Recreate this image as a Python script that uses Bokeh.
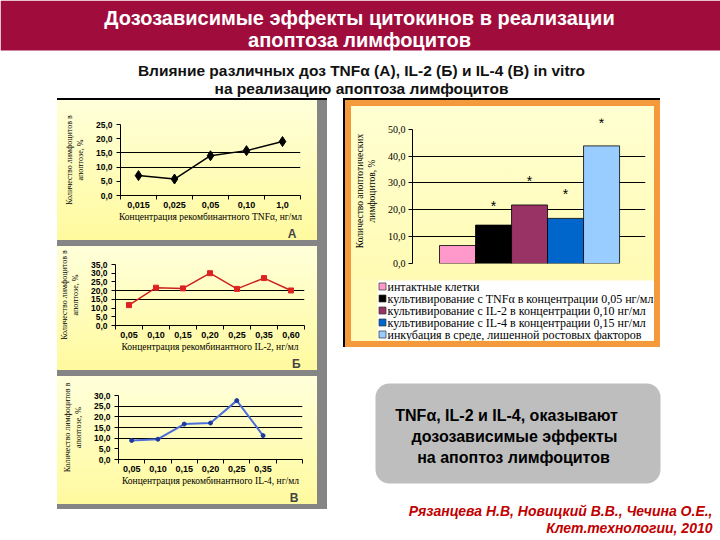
from bokeh.plotting import figure
from bokeh.layouts import row, column
from bokeh.models import (Range1d, FixedTicker, CustomJSTickFormatter, Spacer, Title,
                          ColumnDataSource, BoxAnnotation)
from bokeh.embed import file_html
from bokeh.resources import INLINE
from bokeh.core.properties import value

# ---------------- data ----------------
tnf_doses = ["0,015", "0,025", "0,05", "0,10", "1,0"]
tnf_apoptosis = [7.0, 5.8, 14.0, 15.8, 19.0]

il2_doses = ["0,05", "0,10", "0,15", "0,20", "0,25", "0,35", "0,60"]
il2_apoptosis = [11.7, 21.7, 21.3, 30.0, 21.0, 27.2, 20.1]

il4_doses = ["0,05", "0,10", "0,15", "0,20", "0,25", "0,35", ""]
il4_apoptosis = [8.9, 9.5, 16.6, 17.1, 27.6, 11.2]

groups = ["интактные клетки",
          "культивирование с TNFα в концентрации 0,05 нг/мл",
          "культивирование с IL-2 в концентрации 0,10 нг/мл",
          "культивирование с IL-4 в концентрации 0,15 нг/мл",
          "инкубация в среде, лишенной ростовых факторов"]
group_apoptosis = [6.7, 14.3, 21.8, 16.8, 43.8]
group_colors = ["#FF99CC", "#000000", "#993366", "#0066CC", "#99CCFF"]
star_group = [1, 2, 3, 4]
star_level = [21.4, 30.7, 25.9, 52.2]

title_lines = ["Дозозависимые эффекты цитокинов в реализации", "апоптоза лимфоцитов"]
subtitle_lines = ["Влияние различных доз TNFα (А), IL-2 (Б) и IL-4 (В) in vitro",
                  "на реализацию апоптоза лимфоцитов"]
box_lines = ["TNFα, IL-2 и IL-4, оказывают", "дозозависимые эффекты", "на апоптоз лимфоцитов"]
cite_lines = ["Рязанцева Н.В, Новицкий В.В., Чечина О.Е.,", "Клет.технологии, 2010"]

# ---------------- styles ----------------
MAROON = "#A00D3D"
GREY = "#858585"
ORANGE = "#F59A3C"
SANS = "Liberation Sans"
SERIF = "Liberation Serif"
PANEL_BG = {"background": "linear-gradient(to bottom, #FFFFDA, #FFFA9E)"}
BAR_BG = {"background": "linear-gradient(to bottom, #FFFFD2, #FFFBB4)"}
LEG_BG = {"background": "#FFFBB8"}
COMMA = CustomJSTickFormatter(code="return tick.toFixed(1).replace('.', ',');")


def block(w, h, color):
    return Spacer(width=w, height=h, styles={"background-color": color})


def blank(p):
    p.axis.visible = False
    p.grid.visible = False
    p.outline_line_color = None


def line_chart(doses, vals, ymax, refs, color, marker, msize, lw, mcolor,
               ylabel, xlabel, letter, w, h, mb):
    n = len(doses)
    p = figure(width=w, height=h, output_backend="svg", toolbar_location=None,
               x_range=Range1d(-0.5, n - 0.5), y_range=Range1d(0, ymax),
               min_border_left=mb[0], min_border_right=mb[1],
               min_border_top=mb[2], min_border_bottom=mb[3],
               styles=PANEL_BG, frame_align=False)
    p.border_fill_color = None
    p.background_fill_color = None
    p.outline_line_color = None
    p.xgrid.visible = False
    p.ygrid.ticker = FixedTicker(ticks=refs)
    p.ygrid.grid_line_color = "black"
    p.ygrid.grid_line_width = 1

    xs = list(range(len(vals)))
    p.line(xs, vals, line_color=color, line_width=lw)
    p.scatter(xs, vals, marker=marker, size=msize, fill_color=mcolor, line_color=mcolor)

    xa = p.xaxis[0]
    xa.ticker = FixedTicker(ticks=list(range(n)), minor_ticks=[i - 0.5 for i in range(n + 1)])
    xa.major_label_overrides = {i: d for i, d in enumerate(doses)}
    xa.major_tick_line_color = None
    xa.major_tick_out = 0
    xa.major_tick_in = 0
    xa.minor_tick_line_color = "black"
    xa.minor_tick_out = 4
    xa.minor_tick_in = 0
    xa.major_label_standoff = 2
    xa.major_label_text_font = SANS
    xa.major_label_text_font_style = "bold"
    xa.major_label_text_font_size = "9px"
    xa.axis_label = xlabel
    xa.axis_label_text_font = SERIF
    xa.axis_label_text_font_style = "normal"
    xa.axis_label_text_font_size = "9.5px"
    xa.axis_label_standoff = 1

    ya = p.yaxis[0]
    ya.ticker = FixedTicker(ticks=list(range(0, ymax + 1, 5)))
    ya.formatter = COMMA
    ya.minor_tick_line_color = None
    ya.major_tick_out = 4
    ya.major_tick_in = 0
    ya.major_label_standoff = 4
    ya.major_label_text_font = SANS
    ya.major_label_text_font_style = "bold"
    ya.major_label_text_font_size = "8.5px"
    ya.axis_label = ylabel
    ya.axis_label_text_font = SERIF
    ya.axis_label_text_font_style = "normal"
    ya.axis_label_text_font_size = "8px"
    ya.axis_label_standoff = 8
    for a in (xa, ya):
        a.axis_line_color = "black"
        a.major_label_text_color = "black"
        a.axis_label_text_color = "black"

    p.add_layout(Title(text=letter, align="right", text_font=SANS, text_font_style="bold",
                       text_font_size="12px", standoff=0, offset=4), "below")
    return p


ylab = "Количество лимфоцитов в\nапоптозе, %"

pA = line_chart(tnf_doses, tnf_apoptosis, 25, [10, 15], "black", "diamond", 10, 1.5, "black",
                ylab, "Концентрация рекомбинантного TNFα, нг/мл", "А", 260, 140, (63, 17, 24, 44))
pB = line_chart(il2_doses, il2_apoptosis, 35, [15, 20], "#CC2020", "square", 5, 1.5, "#DD2222",
                ylab, "Концентрация рекомбинантного IL-2, нг/мл", "Б", 260, 124, (58, 13, 18, 38))
pC = line_chart(il4_doses, il4_apoptosis, 30, [10, 15, 20, 25], "#4A6FD8", "circle", 4, 2, "#1F3A9E",
                ylab, "Концентрация рекомбинантного IL-4, нг/мл", "В", 260, 128, (61, 15, 19, 42))

# ---------------- bar chart ----------------
pb = figure(width=303, height=172, output_backend="svg", toolbar_location=None,
            x_range=Range1d(-1.25, 5.22), y_range=Range1d(0, 54),
            min_border_left=61, min_border_right=9, min_border_top=12, min_border_bottom=15,
            styles=BAR_BG, frame_align=False)
pb.border_fill_color = None
pb.background_fill_color = None
pb.outline_line_color = None
pb.xaxis.visible = False
pb.xgrid.visible = False
pb.ygrid.ticker = FixedTicker(ticks=[10, 20, 30, 40])
pb.ygrid.grid_line_color = "black"

src = ColumnDataSource(dict(x=list(range(len(groups))), top=group_apoptosis, color=group_colors))
pb.vbar(x="x", top="top", width=1.0, fill_color="color", line_color="black",
        line_width=0.8, source=src)
pb.text(x=star_group, y=star_level, text=["*"] * len(star_group), text_align="center",
        text_baseline="middle", text_font=value(SANS), text_font_size="14px", text_color="black")

yb = pb.yaxis[0]
yb.bounds = (0, 50)
yb.ticker = FixedTicker(ticks=list(range(0, 51, 10)))
yb.formatter = COMMA
yb.minor_tick_line_color = None
yb.major_tick_out = 4
yb.major_tick_in = 0
yb.axis_line_color = "black"
yb.major_label_text_font = SERIF
yb.major_label_text_font_size = "10px"
yb.major_label_text_color = "black"
yb.major_label_standoff = 3
yb.axis_label = "Количество апоптотических\nлимфоцитов, %"
yb.axis_label_text_font = SERIF
yb.axis_label_text_font_style = "normal"
yb.axis_label_text_font_size = "9.5px"
yb.axis_label_text_color = "black"
yb.axis_label_standoff = 8

# ---------------- legend (drawn as its own small figure) ----------------
pl = figure(width=303, height=63, output_backend="svg", toolbar_location=None,
            x_range=Range1d(0, 277), y_range=Range1d(4.5, -0.5),
            min_border_left=26, min_border_right=0, min_border_top=2, min_border_bottom=1,
            styles=LEG_BG, frame_align=False)
blank(pl)
pl.border_fill_color = None
pl.background_fill_color = "white"
idx = list(range(len(groups)))
pl.scatter(x=[5] * len(groups), y=idx, marker="square", size=7, fill_color=group_colors,
           line_color="#333333", line_width=0.7)
pl.text(x=[10] * len(groups), y=idx, text=groups, text_align="left", text_baseline="middle",
        text_font=value(SERIF), text_font_size="12px", text_color="black")

# ---------------- header ----------------
hdr = figure(width=720, height=98, output_backend="svg", toolbar_location=None,
             x_range=Range1d(0, 720), y_range=Range1d(98, 0), min_border=0, frame_align=False)
blank(hdr)
hdr.border_fill_color = "white"
hdr.background_fill_color = "white"
hdr.quad(left=0, right=720, top=0, bottom=50, fill_color=MAROON, line_color=None)
hdr.text(x=[359, 359], y=[17, 39], text=title_lines, text_align="center", text_baseline="middle",
         text_font=value(SANS), text_font_style="bold", text_font_size="20px", text_color="white")
hdr.text(x=[361, 361], y=[70, 88], text=subtitle_lines, text_align="center", text_baseline="middle",
         text_font=value(SANS), text_font_style="bold", text_font_size="15.5px", text_color="#111111")

# ---------------- bottom right ----------------
br = figure(width=377, height=193, output_backend="svg", toolbar_location=None,
            x_range=Range1d(343, 720), y_range=Range1d(540, 347), min_border=0, frame_align=False)
blank(br)
br.border_fill_color = "white"
br.background_fill_color = "white"
br.add_layout(BoxAnnotation(left=375, right=660, top=383, bottom=483, fill_color="#BEBEBE",
                            fill_alpha=1, line_color=None, border_radius=14, level="underlay"))
br.text(x=[506, 514, 513], y=[415, 436, 457], text=box_lines, text_align="center",
        text_baseline="middle", text_font=value(SANS), text_font_style="bold",
        text_font_size="16px", text_color="black")
br.text(x=[712, 712], y=[510, 527], text=cite_lines, text_align="right", text_baseline="middle",
        text_font=value(SANS), text_font_style="bold italic", text_font_size="14px",
        text_color="#C00000")

# ---------------- layout ----------------
left_col = column(
    block(270, 2, "black"),
    row(pA, block(10, 140, GREY)),
    block(270, 6, GREY),
    row(pB, block(10, 124, GREY)),
    block(270, 6, GREY),
    row(pC, block(10, 128, GREY)),
    block(270, 5, GREY),
    Spacer(width=270, height=31),
)

right_panel = column(
    block(317, 2, "black"),
    row(block(2, 247, "black"),
        column(block(315, 6, ORANGE),
               row(block(6, 235, ORANGE), column(pb, pl), block(6, 235, ORANGE)),
               block(315, 6, ORANGE))),
)
right_col = column(row(right_panel, Spacer(width=60, height=249)), br)

middle = row(Spacer(width=57, height=442), left_col, Spacer(width=16, height=442), right_col)
root = column(hdr, middle)

open("out.html", "w").write(file_html(root, INLINE))
